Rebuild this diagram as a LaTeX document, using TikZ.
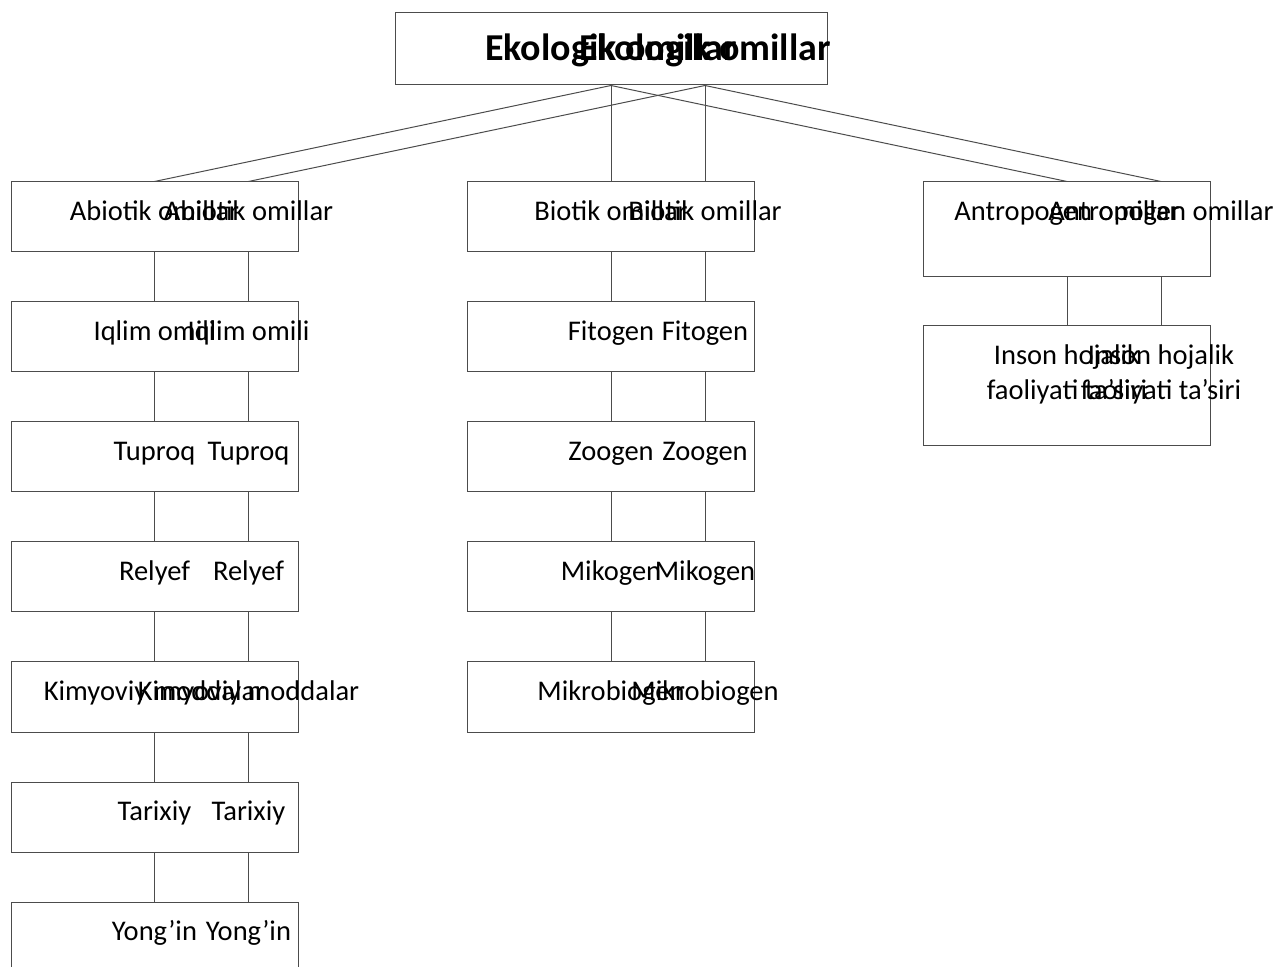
\documentclass[tikz,border=0pt]{standalone}
\usepackage{fontspec}
\setmainfont{Carlito}[Ligatures={Common,Rare}]
\usetikzlibrary{positioning,calc}

\begin{document}
\begin{tikzpicture}[x=0.5pt,y=-0.5pt,
  cell/.style={draw=black!70,line width=0.5pt,minimum width=143.5pt,minimum height=35pt,inner sep=0pt},
  lbl/.style={anchor=base,inner sep=0pt,align=center,font=\fontsize{14.25}{17.5}\selectfont},
  link/.style={draw=black!70,line width=0.5pt}]
\useasboundingbox (0,0) rectangle (1280,967);
\clip (0,0) rectangle (1280,967);
% root
\node[cell,minimum width=216pt,minimum height=36pt] (ekologik) at (611,49) {};
\foreach \dx/\k in {0/a,47/b}{
  \node[lbl,font=\bfseries\fontsize{19}{22}\selectfont] (ekologik\k) at ([xshift=\dx pt,yshift=-24pt]ekologik.north) {Ekologik omillar};
}
% columns
\foreach \w/\t/\x/\y in {abiotik/Abiotik omillar/154.5/217,iqlim/Iqlim omili/154.5/337,tuproq/Tuproq/154.5/457,relyef/Relyef/154.5/577,kimyoviy/Kimyoviy moddalar/154.5/697,tarixiy/Tarixiy/154.5/817,yongin/Yong’in/154.5/937,biotik/Biotik omillar/611/217,fitogen/Fitogen/611/337,zoogen/Zoogen/611/457,mikogen/Mikogen/611/577,mikrobiogen/Mikrobiogen/611/697}{
  \node[cell] (\w) at (\x,\y) {};
  \foreach \dx/\k in {0/a,47/b}
    \node[lbl] (\w\k) at ([xshift=\dx pt,yshift=-19.5pt]\w.north) {\t};
}
\node[cell,minimum height=47.5pt] (antropogen) at (1067,229.5) {};
\node[cell,minimum height=60pt] (inson) at (1067,386) {};
\foreach \dx/\k in {0/a,47/b}{
  \node[lbl] (antropogen\k) at ([xshift=\dx pt,yshift=-19.5pt]antropogen.north) {Antropogen omillar};
  \node[lbl] (inson\k) at ([xshift=\dx pt,yshift=-37pt]inson.north) {Inson hojalik\\faoliyati ta’siri};
}
% links
\foreach \u/\v in {ekologik/abiotik,ekologik/biotik,ekologik/antropogen,abiotik/iqlim,iqlim/tuproq,tuproq/relyef,relyef/kimyoviy,kimyoviy/tarixiy,tarixiy/yongin,biotik/fitogen,fitogen/zoogen,zoogen/mikogen,mikogen/mikrobiogen,antropogen/inson}
  \foreach \dx in {0,47}
    \draw[link] ([xshift=\dx pt]\u.south) -- ([xshift=\dx pt]\v.north);
\end{tikzpicture}
\end{document}
